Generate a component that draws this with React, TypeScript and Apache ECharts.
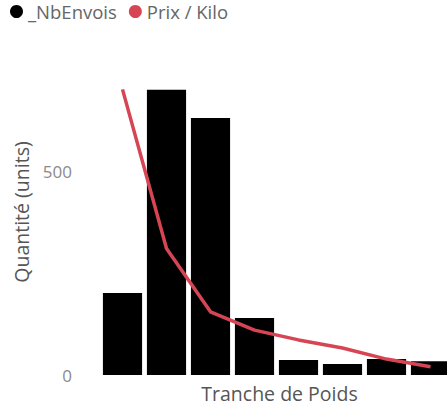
import React, { useEffect, useRef } from "react";
import * as echarts from "echarts";

const categories = ["0-1 kg", "1-2 kg", "2-5 kg", "5-10 kg", "10-20 kg", "20-30 kg", "30-50 kg", "50+ kg"];
const nbEnvois = [201, 699, 630, 140, 37, 27, 39, 34];
const prixKilo = [14.0, 6.2, 3.1, 2.2, 1.72, 1.32, 0.78, 0.4];
const yTicks = [0, 500];
const yTitle = "Quantité (units)";
const xTitle = "Tranche de Poids";

export default function App() {
  const ref = useRef<HTMLDivElement>(null);
  useEffect(() => {
    if (!ref.current) return;
    const chart = echarts.init(ref.current, null, { renderer: "svg" });
    const font = "'Open Sans', 'Noto Sans', sans-serif";
    chart.setOption({
      animation: false,
      textStyle: { fontFamily: font },
      legend: {
        left: 10,
        top: 2,
        padding: 0,
        itemWidth: 13,
        itemHeight: 13,
        itemGap: 12,
        icon: "circle",
        textStyle: { fontSize: 18.5, color: "#666", fontFamily: font },
        data: [
          { name: "_NbEnvois", itemStyle: { color: "#000" } },
          { name: "Prix / Kilo", itemStyle: { color: "#D64554" } },
        ],
      },
      graphic: [
        {
          type: "text",
          x: 21,
          y: 212,
          rotation: Math.PI / 2,
          style: {
            text: yTitle,
            fontSize: 19.5,
            fontFamily: font,
            fill: "#555",
            align: "center",
            verticalAlign: "middle",
          },
        },
      ],
      grid: { left: 100.5, top: 69, width: 352, height: 306, containLabel: false, outerBoundsMode: "none" },
      xAxis: {
        type: "category",
        data: categories,
        name: xTitle,
        nameLocation: "middle",
        nameGap: 8,
        nameTextStyle: { fontSize: 19.5, color: "#555", fontFamily: font, padding: [0, 0, 0, 6] },
        axisLine: { show: false },
        axisTick: { show: false },
        axisLabel: { show: false },
      },
      yAxis: [
        {
          type: "value",
          min: yTicks[0],
          max: 750,
          interval: yTicks[1] - yTicks[0],
          axisLine: { show: false },
          axisTick: { show: false },
          splitLine: { show: false },
          axisLabel: { showMaxLabel: false, margin: 28.5, fontSize: 17, color: "#8a8a8a", fontFamily: font },
        },
        { type: "value", min: 0, max: 15, show: false, splitLine: { show: false } },
      ],
      series: [
        {
          name: "_NbEnvois",
          type: "bar",
          data: nbEnvois,
          barCategoryGap: "11%",
          itemStyle: { color: "#000" },
        },
        {
          name: "Prix / Kilo",
          type: "line",
          yAxisIndex: 1,
          data: prixKilo,
          symbol: "none",
          lineStyle: { color: "#D64554", width: 3.5 },
          itemStyle: { color: "#D64554" },
        },
      ],
    });
    return () => chart.dispose();
  }, []);
  return <div ref={ref} style={{ position: "fixed", left: 0, top: 0, width: 447, height: 405, background: "#fff" }} />;
}
